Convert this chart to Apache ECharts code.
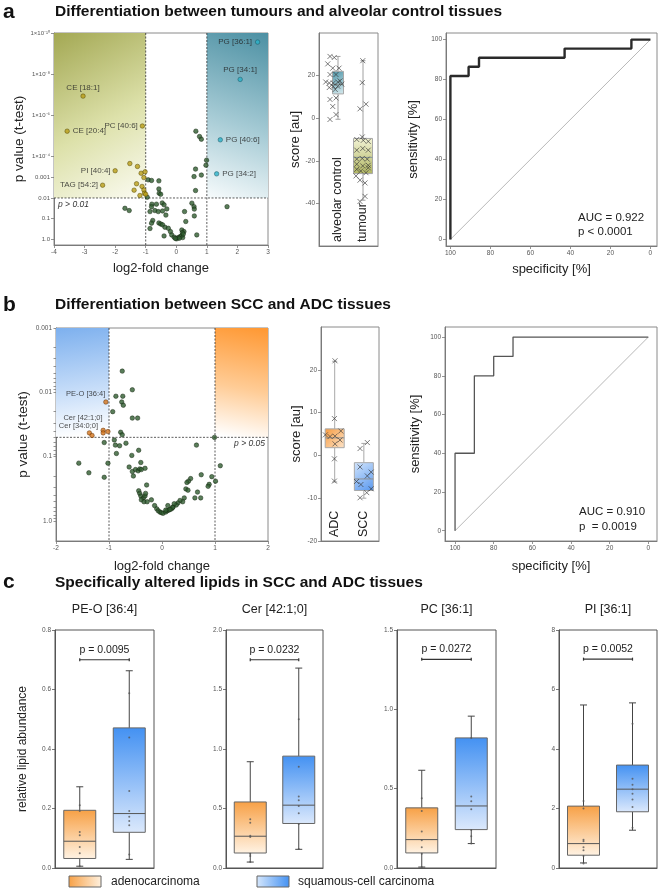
<!DOCTYPE html>
<html><head><meta charset="utf-8">
<script src="https://cdn.jsdelivr.net/npm/echarts@6/dist/echarts.min.js"></script>
<style>html,body{margin:0;padding:0;background:#fff}#c{width:660px;height:889px}</style>
</head><body><div id="c"></div><script>
const FONT = '"Liberation Sans", Arial, Helvetica, sans-serif';

// ================= DATA =================
// Panel a – volcano (x = log2 fold change, y = -log10 p)
const volcA_green = [[-0.95,2.04],[-0.92,2.88],[-0.81,2.85],[-0.57,2.83],[-0.57,2.44],[-0.56,2.23],[-0.51,2.18],
 [0.58,3.04],[0.63,3.40],[0.82,3.11],[0.97,3.59],[0.99,3.83],[0.63,2.36],[0.64,5.24],[0.76,4.98],[0.82,4.85],
 [-1.68,1.50],[-1.54,1.39],[1.66,1.58],[-0.80,1.70],[-0.81,1.58],[-0.65,1.70],[-0.46,1.76],[-0.40,1.67],[-0.86,1.34],
 [-0.70,1.39],[-0.59,1.34],[-0.45,1.37],[-0.31,1.47],[-0.34,1.17],[-0.77,0.91],[-0.81,0.78],[-0.86,0.52],[-0.57,0.79],
 [-0.51,0.74],[-0.45,0.70],[-0.37,0.58],[-0.26,0.53],[-0.40,0.16],[-0.19,0.37],[-0.15,0.21],[-0.07,0.10],[0.01,0.02],
 [0.06,0.08],[0.13,0.13],[0.18,0.18],[0.21,0.08],[0.18,0.45],[0.25,0.37],[0.20,0.32],[0.31,0.86],[0.27,1.34],[0.51,1.75],
 [0.58,1.58],[0.59,1.46],[0.59,1.13],[0.67,0.21],[0.10,0.05],[-0.03,0.04],[0.23,0.25]];
const volcA_olive = [[-1.52,3.67],[-1.27,3.53],[-1.15,3.20],[-1.02,3.27],[-1.06,2.99],[-1.30,2.69],[-1.12,2.56],
 [-1.38,2.38],[-1.06,2.39],[-1.04,2.23],[-1.19,2.12],[-1.00,2.18]];
const volcA_oliveNames = ['CE [18:1]','CE [20:4]','PC [40:6]','PI [40:4]','TAG [54:2]'];
const volcA_oliveValues = [[-3.05,6.94],[-3.57,5.24],[-1.11,5.49],[-2.00,3.32],[-2.41,2.62]];
const volcA_tealNames = ['PG [36:1]','PG [34:1]','PG [40:6]','PG [34:2]'];
const volcA_tealValues = [[2.66,9.56],[2.09,7.75],[1.44,4.82],[1.32,3.17]];
const volcA_xThresholds = [-1, 1];
const volcA_yThreshold = 2;            // p = 0.01
const volcA_yTickValues = [0,1,2,3,4,6,8,10];
const volcA_yTickLabels = ['1.0','0.1','0.01','0.001','1×10⁻⁴','1×10⁻⁶','1×10⁻⁸','1×10⁻¹⁰'];
const volcA_xTicks = [-4,-3,-2,-1,0,1,2,3];

// Panel a – score box plot
const boxA_categories = ['alveolar control','tumour'];
const boxA_stats = [[-0.5,11.4,15.8,22.0,29.0],[-38.5,-26.0,-18.4,-9.5,27.0]]; // min,Q1,median,Q3,max
const boxA_alveolar = [29,28.5,25.5,23.5,23.5,20.5,20.5,17.0,16.5,16.5,17.0,17.5,15,15,16,14.4,13.5,8.8,9.5,5.5,-0.6,1.7];
const boxA_alveolarJitter = [-0.32,-0.15,-0.41,-0.21,0.04,-0.32,-0.08,-0.49,-0.35,-0.19,-0.01,0.08,-0.19,-0.01,0.15,-0.35,-0.11,-0.32,-0.08,-0.21,-0.32,-0.08];
const boxA_tumour = [27,16.7,4.4,6.6,-8.8,-10,-10.4,-10.9,-15,-14.2,-15,-19.2,-18.9,-19.2,-21.6,-22.4,-22.1,-24,-24.8,-25.6,-23.3,-27.1,-29.1,-30.4,-39.1,-36.7];
const boxA_tumourJitter = [-0.01,-0.03,-0.12,0.12,-0.03,-0.25,0.01,0.21,-0.25,-0.01,0.21,-0.25,-0.03,0.17,-0.25,-0.01,0.21,-0.25,-0.09,0.12,0.21,-0.28,-0.12,0.08,-0.12,0.08];
const boxA_yTicks = [-40,-20,0,20];

// Panel a – ROC
const rocA_spec = [100,100,90.9,90.9,85.7,85.7,42.9,42.9,9.5,9.5,0];
const rocA_sens = [0,81.8,81.8,86.4,86.4,90.9,90.9,95.5,95.5,100,100];
const rocA_text = ['AUC = 0.922','p < 0.0001'];
const roc_ticks = [0,20,40,60,80,100];

// Panel b – volcano
const volcB_green = [[-0.75,2.33],[-0.56,2.04],[-0.87,1.94],[-0.74,1.94],[-0.76,1.85],[-0.73,1.80],[-0.93,1.70],[-0.56,1.60],[-0.46,1.60],
 [-0.78,1.38],[-0.75,1.34],[-1.09,1.22],[-0.90,1.26],[-0.88,1.18],[-0.80,1.17],[-0.68,1.21],[-0.44,1.10],[-0.86,1.05],
 [-1.02,0.90],[-1.57,0.90],[-1.38,0.75],[-1.09,0.68],[-0.57,1.02],[-0.40,0.91],[-0.62,0.84],[-0.56,0.77],[-0.54,0.70],
 [-0.50,0.80],[-0.45,0.78],[-0.42,0.81],[-0.39,0.80],[-0.32,0.82],[-0.29,0.56],[-0.44,0.47],[-0.42,0.43],[-0.40,0.39],
 [-0.35,0.36],[-0.32,0.39],[-0.31,0.43],[-0.39,0.33],[-0.34,0.30],[-0.28,0.30],[-0.20,0.33],[-0.14,0.24],[-0.10,0.19],
 [-0.07,0.16],[-0.04,0.14],[-0.01,0.13],[0.02,0.12],[0.07,0.14],[0.10,0.16],[0.13,0.17],[0.18,0.19],[0.21,0.22],
 [0.65,1.18],[0.99,1.30],[1.10,0.86],[1.01,0.62],[0.94,0.69],[0.89,0.57],[0.87,0.54],[0.74,0.72],[0.73,0.36],[0.67,0.45],
 [0.54,0.66],[0.50,0.62],[0.47,0.60],[0.45,0.50],[0.49,0.48],[0.42,0.36],[0.39,0.30],[0.34,0.32],[0.30,0.28],[0.27,0.25],
 [0.23,0.27],[0.20,0.21],[0.15,0.18],[0.11,0.24],[0.07,0.17],[0.62,0.36]];
const volcB_orangeNames = ['PE-O [36:4]','Cer [42:1;0]','','','Cer [34:0;0]',''];
const volcB_orangeValues = [[-1.06,1.85],[-1.11,1.41],[-1.11,1.37],[-1.02,1.39],[-1.37,1.37],[-1.32,1.33]];
const volcB_xThresholds = [-1, 1];
const volcB_yThreshold = 1.301;        // p = 0.05
const volcB_yTickValues = [0,1,2,3];
const volcB_yTickLabels = ['1.0','0.1','0.01','0.001'];
const volcB_xTicks = [-2,-1,0,1,2];

// Panel b – score box plot
const boxB_categories = ['ADC','SCC'];
const boxB_stats = [[-6.2,1.8,4.1,6.2,22.0],[-10.0,-8.2,-5.5,-1.7,2.8]];
const boxB_adc = [22.1,8.6,5.7,4.8,4.4,4.5,3.6,2.7,-0.8,-6.0];
const boxB_adcJitter = [0.01,-0.01,0.21,-0.32,-0.16,0.01,0.18,0.01,-0.01,-0.01];
const boxB_scc = [3.0,1.6,-2.7,-3.9,-4.8,-6.1,-6.8,-7.8,-8.7,-9.9];
const boxB_sccJitter = [0.12,-0.13,-0.13,0.25,0.12,-0.25,-0.10,0.25,0.10,-0.13];
const boxB_yTicks = [-20,-10,0,10,20];

// Panel b – ROC
const rocB_spec = [100,100,90,90,80,80,70,70,0];
const rocB_sens = [0,40,40,80,80,90,90,100,100];
const rocB_text = ['AUC = 0.910','p  = 0.0019'];

// Panel c – lipids
const lipidNames = ['PE-O [36:4]','Cer [42:1;0]','PC [36:1]','PI [36:1]'];
const lipidPValues = ['p = 0.0095','p = 0.0232','p = 0.0272','p = 0.0052'];
const lipidBracketLevel = [0.70,1.75,1.315,7.02];
const lipidYMax = [0.8,2.0,1.5,8];
const lipidYInterval = [0.2,0.5,0.5,2];
const lipidADCStats = [[0.006,0.032,0.090,0.194,0.273],[0.05,0.126,0.267,0.555,0.893],[0.006,0.095,0.179,0.379,0.616],[0.17,0.43,0.82,2.08,5.48]];
const lipidSCCStats = [[0.029,0.120,0.183,0.471,0.663],[0.157,0.374,0.528,0.940,1.680],[0.154,0.242,0.391,0.820,0.957],[1.27,1.89,2.65,3.46,5.55]];
const lipidADCPoints = [[0.211,0.192,0.121,0.110,0.071,0.050,0.006],[0.41,0.38,0.27,0.26,0.12,0.10,0.05],[0.44,0.36,0.23,0.175,0.13,0.09,0.005],[2.25,2.0,0.95,0.9,0.7,0.6,0.4,0.15]];
const lipidSCCPoints = [[0.587,0.439,0.259,0.192,0.172,0.158,0.144,0.045],[1.25,0.85,0.60,0.57,0.52,0.46,0.37,0.16],[0.82,0.45,0.42,0.37,0.24,0.20,0.154],[4.85,3.0,2.8,2.65,2.5,2.3,2.05,1.35]];
const legendNames = ['adenocarcinoma','squamous-cell carcinoma'];

// ================= STYLE / LAYOUT =================
const G = echarts.graphic;
const lg = (x0,y0,x1,y1,stops) => new G.LinearGradient(x0,y0,x1,y1,stops.map((c,i)=>({offset:c[0],color:c[1]})));
const grids = [
  {left:54, top:33, width:214, height:212},   // 0 volcano a
  {left:319,top:33, width:59,  height:213},   // 1 box a
  {left:446,top:33, width:211, height:213},   // 2 roc a
  {left:56, top:328,width:212, height:213},   // 3 volcano b
  {left:321,top:327,width:58,  height:214},   // 4 box b
  {left:445,top:327,width:212, height:214},   // 5 roc b
  {left:55, top:630,width:99,  height:238},   // 6..9 panel c
  {left:226,top:630,width:97,  height:238},
  {left:397,top:630,width:99,  height:238},
  {left:559,top:630,width:98,  height:238}
].map((g,i)=>Object.assign({show:true, borderColor: i>=6 ? '#555' : '#8a8a8a', borderWidth:1, backgroundColor:'transparent'}, g));

function merge(a,b){ for(const k in b){ if(b[k] && typeof b[k]==='object' && !Array.isArray(b[k]) && !(b[k] instanceof Function)){ a[k]=merge(a[k]&&typeof a[k]==='object'?a[k]:{}, b[k]); } else a[k]=b[k]; } return a; }
function axis(o, dark){
  const c = dark ? '#555' : '#7a7a7a';
  return merge({
    type:'value', nameLocation:'middle',
    axisLine:{show:true, onZero:false, lineStyle:{color:c, width:1}},
    axisTick:{show:true, length:3, lineStyle:{color:c, width:0.8}},
    axisLabel:{fontSize:6.5, color:'#555', fontFamily:FONT, margin:4},
    splitLine:{show:false},
    nameTextStyle:{fontSize:13, color:'#222', fontFamily:FONT}
  }, o);
}
const xAxes = [], yAxes = [];
// volcano a
xAxes.push(axis({gridIndex:0, min:-4, max:3, name:'log2-fold change', nameGap:17,
  axisLabel:{customValues:volcA_xTicks}, axisTick:{customValues:volcA_xTicks}}));
yAxes.push(axis({gridIndex:0, min:-0.28, max:10, name:'p value (t-test)', nameGap:26, nameTextStyle:{fontSize:13.5},
  axisLabel:{customValues:volcA_yTickValues, fontSize:6, formatter:v=>volcA_yTickLabels[volcA_yTickValues.indexOf(v)]},
  axisTick:{customValues:volcA_yTickValues}}));
// box a
xAxes.push(axis({gridIndex:1, min:-0.76, max:1.6, axisTick:{show:false},
  axisLabel:{customValues:[0,1], inside:true, rotate:90, margin:4, fontSize:12.5, color:'#222', formatter:v=>boxA_categories[v]}}));
yAxes.push(axis({gridIndex:1, min:-60, max:40, name:'score [au]', nameGap:15,
  axisLabel:{customValues:boxA_yTicks}, axisTick:{customValues:boxA_yTicks}}));
// roc a
xAxes.push(axis({gridIndex:2, min:-3.3, max:102.2, inverse:true, name:'specificity [%]', nameGap:17,
  axisLabel:{customValues:roc_ticks}, axisTick:{customValues:roc_ticks}}));
yAxes.push(axis({gridIndex:2, min:-3.3, max:103.3, name:'sensitivity [%]', nameGap:26,
  axisLabel:{customValues:roc_ticks}, axisTick:{customValues:roc_ticks}}));
// volcano b
const volcB_minor = [];
[0,1,2].forEach(d=>{ for(let k=1;k<=9;k++){ volcB_minor.push(d+1-Math.log10(k)); } });
volcB_minor.push(0);
xAxes.push(axis({gridIndex:3, min:-2, max:2, name:'log2-fold change', nameGap:19,
  axisLabel:{customValues:volcB_xTicks}, axisTick:{customValues:volcB_xTicks}}));
yAxes.push(axis({gridIndex:3, min:-0.31, max:3, name:'p value (t-test)', nameGap:26, nameTextStyle:{fontSize:13.5},
  axisLabel:{customValues:volcB_yTickValues, formatter:v=>volcB_yTickLabels[volcB_yTickValues.indexOf(v)]},
  axisTick:{customValues:volcB_minor, length:2.5}}));
// box b
xAxes.push(axis({gridIndex:4, min:-0.47, max:1.52, axisTick:{show:false},
  axisLabel:{customValues:[0,1], inside:true, rotate:90, margin:4, fontSize:12.5, color:'#222', formatter:v=>boxB_categories[v]}}));
yAxes.push(axis({gridIndex:4, min:-20, max:30, name:'score [au]', nameGap:18,
  axisLabel:{customValues:boxB_yTicks}, axisTick:{customValues:boxB_yTicks}}));
// roc b
xAxes.push(axis({gridIndex:5, min:-4.5, max:105.2, inverse:true, name:'specificity [%]', nameGap:19,
  axisLabel:{customValues:roc_ticks}, axisTick:{customValues:roc_ticks}}));
yAxes.push(axis({gridIndex:5, min:-5.3, max:105.2, name:'sensitivity [%]', nameGap:23,
  axisLabel:{customValues:roc_ticks}, axisTick:{customValues:roc_ticks}}));
// panel c
lipidNames.forEach((n,i)=>{
  xAxes.push(axis({gridIndex:6+i, min:-0.5, max:1.5, axisTick:{show:false}, axisLabel:{show:false}}, true));
  yAxes.push(axis({gridIndex:6+i, min:0, max:lipidYMax[i], interval:lipidYInterval[i],
    name: i===0 ? 'relative lipid abundance' : '', nameGap:26, nameTextStyle:{fontSize:12},
    axisLabel:{formatter: v => i===3 ? String(v) : v.toFixed(1)}}, true));
});

// ---------- renderers ----------
function regionRender(fills){
  return (params, api) => {
    const p0 = api.coord([api.value(0), api.value(3)]);
    const p1 = api.coord([api.value(1), api.value(2)]);
    return {type:'rect', shape:{x:p0[0], y:p0[1], width:p1[0]-p0[0], height:p1[1]-p0[1]}, style:{fill:fills[params.dataIndex]}};
  };
}
const dashStyle = {stroke:'#333', lineWidth:0.8, lineDash:[2,1.5], fill:null};
function vlineRender(params, api){
  const cs = params.coordSys; const p = api.coord([api.value(0), api.value(1)]);
  return {type:'line', shape:{x1:p[0], y1:cs.y, x2:p[0], y2:cs.y+cs.height}, style:dashStyle};
}
function hlineRender(label, right){
  return (params, api) => {
    const cs = params.coordSys; const p = api.coord([api.value(0), api.value(1)]);
    return {type:'group', children:[
      {type:'line', shape:{x1:cs.x, y1:p[1], x2:cs.x+cs.width, y2:p[1]}, style:dashStyle},
      {type:'text', style:{text:label, x: right ? cs.x+cs.width-3 : cs.x+4, y:p[1]+2, align: right?'right':'left', verticalAlign:'top',
        font:'italic 8.5px '+FONT, fill:'#333'}}
    ]};
  };
}
function boxRender(cfg){
  return (params, api) => {
    const i = params.dataIndex, x = api.value(0);
    const lo = api.coord([x, api.value(1)]), q1 = api.coord([x, api.value(2)]), md = api.coord([x, api.value(3)]),
          q3 = api.coord([x, api.value(4)]), hi = api.coord([x, api.value(5)]);
    const cx = lo[0], w = cfg.widths[i], c = cfg.cap/2;
    const ls = {stroke:cfg.whisker, lineWidth:cfg.lw, fill:null};
    return {type:'group', children:[
      {type:'line', shape:{x1:cx, y1:hi[1], x2:cx, y2:q3[1]}, style:ls},
      {type:'line', shape:{x1:cx, y1:q1[1], x2:cx, y2:lo[1]}, style:ls},
      {type:'line', shape:{x1:cx-c, y1:hi[1], x2:cx+c, y2:hi[1]}, style:ls},
      {type:'line', shape:{x1:cx-c, y1:lo[1], x2:cx+c, y2:lo[1]}, style:ls},
      {type:'rect', shape:{x:cx-w/2, y:q3[1], width:w, height:q1[1]-q3[1]}, style:{fill:cfg.fills[i], stroke:cfg.border, lineWidth:cfg.lw}},
      {type:'line', shape:{x1:cx-w/2, y1:md[1], x2:cx+w/2, y2:md[1]}, style:{stroke:cfg.median, lineWidth:cfg.lw}}
    ]};
  };
}
function bracketRender(text){
  return (params, api) => {
    const a = api.coord([api.value(0), api.value(2)]), b = api.coord([api.value(1), api.value(2)]);
    const st = {stroke:'#333', lineWidth:1.2, fill:null};
    return {type:'group', children:[
      {type:'line', shape:{x1:a[0], y1:a[1], x2:b[0], y2:b[1]}, style:st},
      {type:'line', shape:{x1:a[0], y1:a[1]-1.5, x2:a[0], y2:a[1]+1.5}, style:st},
      {type:'line', shape:{x1:b[0], y1:b[1]-1.5, x2:b[0], y2:b[1]+1.5}, style:st},
      {type:'text', style:{text:text, x:(a[0]+b[0])/2, y:a[1]-10, align:'center', verticalAlign:'middle', font:'10.5px '+FONT, fill:'#222'}}
    ]};
  };
}

const series = [];
const ptGreen = {color:'#2f5c30', borderColor:'#12240f', borderWidth:0.6};
// ---- volcano a ----
series.push({type:'custom', xAxisIndex:0, yAxisIndex:0, silent:true, z:1, clip:true,
  data:[[-4,-1,volcA_yThreshold,10],[1,3,volcA_yThreshold,10]],
  renderItem: regionRender([
    lg(0,0,1,1,[[0,'#a3a853'],[0.55,'#dde1aa'],[1,'#fbfbf2']]),
    lg(1,0,0,1,[[0,'#4c90a3'],[0.55,'#a6cbd5'],[1,'#f7fbfc']])])});
series.push({type:'custom', xAxisIndex:0, yAxisIndex:0, silent:true, z:2, data:volcA_xThresholds.map(v=>[v,0]), renderItem:vlineRender});
series.push({type:'custom', xAxisIndex:0, yAxisIndex:0, silent:true, z:2, data:[[0,volcA_yThreshold]], renderItem:hlineRender('p > 0.01', false)});
series.push({type:'scatter', xAxisIndex:0, yAxisIndex:0, z:3, symbolSize:4.5, data:volcA_green, itemStyle:ptGreen, silent:true});
const labA = {'CE [18:1]':['top',2],'CE [20:4]':['right',3],'PC [40:6]':['left',2],'PI [40:4]':['left',2],'TAG [54:2]':['left',2],
  'PG [36:1]':['left',3],'PG [34:1]':['top',3],'PG [40:6]':['right',3],'PG [34:2]':['right',3]};
const mkLab = (name, value, pos) => ({name, value, label:{show:!!name, formatter:'{b}', position:pos?pos[0]:'left', distance:pos?pos[1]:2,
   fontSize:8, color:'#222', fontFamily:FONT}});
series.push({type:'scatter', xAxisIndex:0, yAxisIndex:0, z:4, symbolSize:4.5, silent:true,
  itemStyle:{color:'#b99d18', borderColor:'#4e4200', borderWidth:0.6},
  data: volcA_olive.map(v=>mkLab('',v)).concat(volcA_oliveNames.map((n,i)=>mkLab(n, volcA_oliveValues[i], labA[n])))});
series.push({type:'scatter', xAxisIndex:0, yAxisIndex:0, z:4, symbolSize:4.5, silent:true,
  itemStyle:{color:'#2bb2c8', borderColor:'#17505c', borderWidth:0.6},
  data: volcA_tealNames.map((n,i)=>mkLab(n, volcA_tealValues[i], labA[n]))});

// ---- box a ----
const xSym = 'path://M0,0L10,10M10,0L0,10';
const xItem = {color:'none', borderColor:'#333', borderWidth:0.8};
series.push({type:'custom', xAxisIndex:1, yAxisIndex:1, silent:true, z:2,
  data: boxA_stats.map((s,i)=>[i].concat(s)),
  renderItem: boxRender({widths:[11,19], cap:5, lw:1, whisker:'#a0a0a0', border:'#a8a8a8', median:'#8a9a9a',
    fills:[lg(0,0,1,1,[[0,'#4f96a9'],[1,'#d9ebef']]), lg(0,0,0,1,[[0,'#f3f4d6'],[1,'#b0b562']])]})});
series.push({type:'scatter', xAxisIndex:1, yAxisIndex:1, z:3, silent:true, symbol:xSym, symbolSize:5, itemStyle:xItem,
  data: boxA_alveolar.map((v,i)=>[0+boxA_alveolarJitter[i], v]).concat(boxA_tumour.map((v,i)=>[1+boxA_tumourJitter[i], v]))});

// ---- roc a ----
series.push({type:'line', xAxisIndex:2, yAxisIndex:2, silent:true, symbol:'none', data:[[100,0],[0,100]], lineStyle:{color:'#9a9a9a', width:0.7}});
series.push({type:'line', xAxisIndex:2, yAxisIndex:2, silent:true, symbol:'none', data:rocA_spec.map((s,i)=>[s, rocA_sens[i]]), lineStyle:{color:'#2a2a2a', width:2.4}});

// ---- volcano b ----
series.push({type:'custom', xAxisIndex:3, yAxisIndex:3, silent:true, z:1,
  data:[[-2,-1,volcB_yThreshold,3],[1,2,volcB_yThreshold,3]],
  renderItem: regionRender([
    lg(0,0,0.3,1,[[0,'#7db0ee'],[0.6,'#c8def9'],[1,'#ffffff']]),
    lg(0.7,0,0.3,1,[[0,'#ff9a36'],[0.55,'#ffcc96'],[1,'#ffffff']])])});
series.push({type:'custom', xAxisIndex:3, yAxisIndex:3, silent:true, z:2, data:volcB_xThresholds.map(v=>[v,0]), renderItem:vlineRender});
series.push({type:'custom', xAxisIndex:3, yAxisIndex:3, silent:true, z:2, data:[[0,volcB_yThreshold]], renderItem:hlineRender('p > 0.05', true)});
series.push({type:'scatter', xAxisIndex:3, yAxisIndex:3, z:3, symbolSize:4.5, data:volcB_green, itemStyle:ptGreen, silent:true});
const labB = {'PE-O [36:4]':{position:'left', distance:1, offset:[3,-8]}, 'Cer [42:1;0]':{position:'left', distance:1, offset:[3,-12]},
  'Cer [34:0;0]':{position:'top', distance:2, offset:[-11,2]}};
series.push({type:'scatter', xAxisIndex:3, yAxisIndex:3, z:4, symbolSize:4.5, silent:true,
  itemStyle:{color:'#d2731c', borderColor:'#5e2c00', borderWidth:0.6},
  data: volcB_orangeNames.map((n,i)=>({name:n, value:volcB_orangeValues[i],
    label:Object.assign({show:!!n, formatter:'{b}', fontSize:7.5, color:'#222', fontFamily:FONT}, labB[n]||{})}))});

// ---- box b ----
series.push({type:'custom', xAxisIndex:4, yAxisIndex:4, silent:true, z:2,
  data: boxB_stats.map((s,i)=>[i].concat(s)),
  renderItem: boxRender({widths:[19,19], cap:5, lw:1, whisker:'#a8a8a8', border:'#a8a8a8', median:'#909090',
    fills:[lg(0,0,1,1,[[0,'#f79a3e'],[1,'#fde5cb']]), lg(0,0,1,1,[[0,'#d4e6fc'],[1,'#5797ef']])]})});
series.push({type:'scatter', xAxisIndex:4, yAxisIndex:4, z:3, silent:true, symbol:xSym, symbolSize:5, itemStyle:xItem,
  data: boxB_adc.map((v,i)=>[0+boxB_adcJitter[i], v]).concat(boxB_scc.map((v,i)=>[1+boxB_sccJitter[i], v]))});

// ---- roc b ----
series.push({type:'line', xAxisIndex:5, yAxisIndex:5, silent:true, symbol:'none', data:[[100,0],[0,100]], lineStyle:{color:'#9a9a9a', width:0.7}});
series.push({type:'line', xAxisIndex:5, yAxisIndex:5, silent:true, symbol:'none', data:rocB_spec.map((s,i)=>[s, rocB_sens[i]]), lineStyle:{color:'#555', width:1.3}});

// ---- panel c ----
const cFills = [lg(0,0,0,1,[[0,'#f7a045'],[1,'#fff3e4']]), lg(0,0,0,1,[[0,'#4391f2'],[1,'#dce9fc']])];
lipidNames.forEach((n,i)=>{
  const ax = 6+i;
  series.push({type:'custom', xAxisIndex:ax, yAxisIndex:ax, silent:true, z:2,
    data:[[0].concat(lipidADCStats[i]), [1].concat(lipidSCCStats[i])],
    renderItem: boxRender({widths:[32,32], cap:7, lw:1, whisker:'#444', border:'#666', median:'#555', fills:cFills})});
  series.push({type:'scatter', xAxisIndex:ax, yAxisIndex:ax, z:3, silent:true, symbolSize:2, itemStyle:{color:'#555'},
    data: lipidADCPoints[i].map(v=>[0,v]).concat(lipidSCCPoints[i].map(v=>[1,v]))});
  series.push({type:'custom', xAxisIndex:ax, yAxisIndex:ax, silent:true, z:3, data:[[0,1,lipidBracketLevel[i]]], renderItem:bracketRender(lipidPValues[i])});
});

// ---- text / legend graphics ----
const graphic = [];
const T = (text,x,y,font,extra) => graphic.push(Object.assign({type:'text', x, y, style:Object.assign({text, font, fill:'#111', verticalAlign:'middle'}, extra||{})}));
T('a',3,12,'bold 21px '+FONT); T('Differentiation between tumours and alveolar control tissues',55,12,'bold 15.5px '+FONT);
T('b',3,305,'bold 21px '+FONT); T('Differentiation between SCC and ADC tissues',55,305,'bold 15.5px '+FONT);
T('c',3,582,'bold 21px '+FONT); T('Specifically altered lipids in SCC and ADC tissues',55,583,'bold 15.5px '+FONT);
T(rocA_text[0],578,218,'11.5px '+FONT,{fill:'#222'}); T(rocA_text[1],578,232,'11.5px '+FONT,{fill:'#222'});
T(rocB_text[0],579,512,'11.5px '+FONT,{fill:'#222'}); T(rocB_text[1],579,527,'11.5px '+FONT,{fill:'#222'});
lipidNames.forEach((n,i)=>{ const g = grids[6+i]; T(n, g.left+g.width/2, 610, '12.5px '+FONT, {align:'center', fill:'#222'}); });
graphic.push({type:'rect', shape:{x:69,y:876,width:32,height:11}, style:{fill:lg(0,0,1,0,[[0,'#f7a045'],[1,'#fff1df']]), stroke:'#666', lineWidth:1}});
graphic.push({type:'rect', shape:{x:257,y:876,width:32,height:11}, style:{fill:lg(0,0,1,0,[[0,'#d6e7fc'],[1,'#4391f2']]), stroke:'#666', lineWidth:1}});
T(legendNames[0],111,882,'12px '+FONT,{fill:'#222'}); T(legendNames[1],298,882,'12px '+FONT,{fill:'#222'});

const chart = echarts.init(document.getElementById('c'), null, {renderer:'canvas'});
chart.setOption({animation:false, backgroundColor:'#fff', grid:grids, xAxis:xAxes, yAxis:yAxes, series, graphic});
</script></body></html>
